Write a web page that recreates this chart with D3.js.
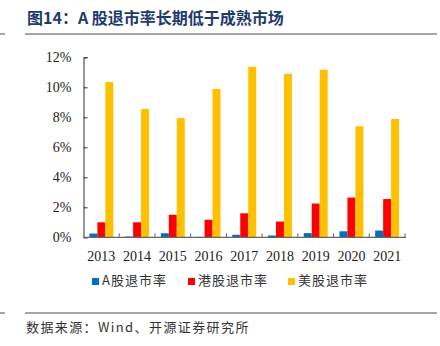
<!DOCTYPE html>
<html>
<head>
<meta charset="utf-8">
<script src="https://cdn.jsdelivr.net/npm/d3@7"></script>
<style>
  body { margin: 0; background: #fff; }
  svg { display: block; }
</style>
</head>
<body>
<svg id="chart" width="440" height="346"></svg>
<script>
// exit rates by year, in percent
const years = ["2013", "2014", "2015", "2016", "2017", "2018", "2019", "2020", "2021"];
const seriesNames = ["A股退市率", "港股退市率", "美股退市率"];
const aShare = [0.25, 0.05, 0.27, 0.03, 0.17, 0.12, 0.28, 0.40, 0.45];
const hkShare = [1.00, 1.00, 1.50, 1.17, 1.60, 1.05, 2.25, 2.65, 2.55];
const usShare = [10.35, 8.55, 7.95, 9.89, 11.37, 10.90, 11.17, 7.40, 7.89];
const yTicks = [0, 2, 4, 6, 8, 10, 12];
const colors = ["#0070C0", "#FF0000", "#FFC000"];

const svg = d3.select("#chart");
const serif = "'Liberation Serif', 'Times New Roman', serif";
const cjk = "'Noto Sans CJK SC', sans-serif";

// title + rules
svg.append("text")
  .attr("x", 27).attr("y", 24)
  .attr("font-family", cjk).attr("font-weight", "bold")
  .attr("font-size", 16).attr("fill", "#1F3A6E")
  .text("图14：A 股退市率长期低于成熟市场");
[34, 313].forEach(yy => {
  svg.append("line").attr("x1", 25).attr("x2", 437).attr("y1", yy).attr("y2", yy)
    .attr("stroke", "#8a8a8a").attr("stroke-width", 1.5);
  svg.append("line").attr("x1", 0).attr("x2", 5).attr("y1", yy).attr("y2", yy)
    .attr("stroke", "#8a8a8a").attr("stroke-width", 1.5);
});

const plotLeft = 83.5, plotRight = 405, plotTop = 57.3, plotBottom = 237.3;

const y = d3.scaleLinear().domain([0, 12]).range([plotBottom, plotTop]);
const x0 = d3.scaleBand().domain(years).range([plotLeft, plotRight]).paddingInner(0.33).paddingOuter(0.165);
const x1 = d3.scaleBand().domain(seriesNames).range([0, x0.bandwidth()]);

const rows = years.map((yr, i) => ({ year: yr, values: [aShare[i], hkShare[i], usShare[i]] }));

const groups = svg.append("g").selectAll("g").data(rows).join("g")
  .attr("transform", d => `translate(${x0(d.year)},0)`);
groups.selectAll("rect").data(d => d.values.map((v, k) => ({ v, k }))).join("rect")
  .attr("x", d => x1(seriesNames[d.k]))
  .attr("width", x1.bandwidth())
  .attr("y", d => y(d.v))
  .attr("height", d => plotBottom - y(d.v))
  .attr("fill", d => colors[d.k]);

// y axis
const yAxis = svg.append("g").attr("transform", `translate(${plotLeft},0)`)
  .call(d3.axisRight(y).tickValues(yTicks).tickSize(4).tickFormat(d => d + "%"));
yAxis.select(".domain").attr("stroke", "#333");
yAxis.selectAll(".tick line").attr("stroke", "#333");
yAxis.selectAll("text").attr("x", -12).attr("text-anchor", "end")
  .attr("font-family", serif).attr("font-size", 14).attr("fill", "#222");

// x axis with boundary ticks pointing up
const step = x0.step();
const xg = svg.append("g");
xg.append("line").attr("x1", plotLeft).attr("x2", plotRight + 1)
  .attr("y1", plotBottom).attr("y2", plotBottom)
  .attr("stroke", "#666").attr("stroke-width", 1.2);
xg.selectAll("line.tk").data(years).join("line").attr("class", "tk")
  .attr("x1", d => x0(d) + x0.bandwidth() + (step - x0.bandwidth()) / 2)
  .attr("x2", d => x0(d) + x0.bandwidth() + (step - x0.bandwidth()) / 2)
  .attr("y1", plotBottom).attr("y2", plotBottom - 4)
  .attr("stroke", "#666");
xg.selectAll("text").data(years).join("text")
  .attr("x", d => x0(d) + x0.bandwidth() / 2)
  .attr("y", 261)
  .attr("text-anchor", "middle")
  .attr("font-family", serif).attr("font-size", 14).attr("fill", "#222")
  .text(d => d);

// legend
const legendX = [92, 188, 288];
const lg = svg.append("g").selectAll("g").data(seriesNames).join("g")
  .attr("transform", (d, i) => `translate(${legendX[i]},285)`);
lg.append("rect").attr("x", 0).attr("y", -7).attr("width", 7).attr("height", 7)
  .attr("fill", (d, i) => colors[i]);
lg.append("text").attr("x", 10).attr("y", 0)
  .attr("font-family", cjk).attr("font-size", 13).attr("fill", "#333")
  .attr("letter-spacing", 1)
  .text(d => d);

// source note
svg.append("text")
  .attr("x", 26).attr("y", 332)
  .attr("font-family", cjk).attr("font-size", 13).attr("fill", "#333")
  .attr("letter-spacing", 1.4)
  .text("数据来源：Wind、开源证券研究所");
</script>
</body>
</html>
